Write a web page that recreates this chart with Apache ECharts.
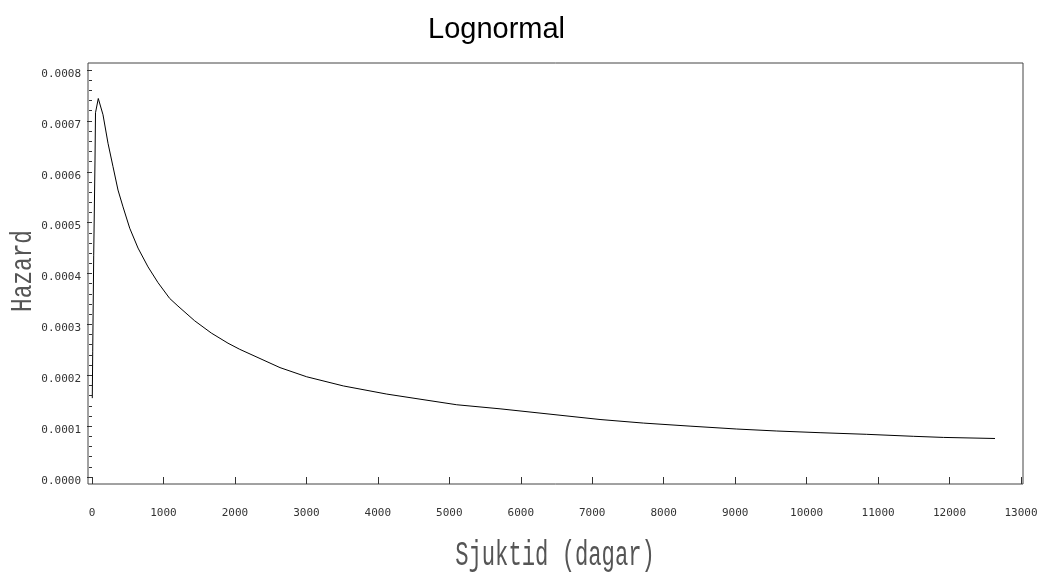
<!DOCTYPE html>
<html>
<head>
<meta charset="utf-8">
<script src="https://cdn.jsdelivr.net/npm/echarts@6/dist/echarts.min.js"></script>
<style>
html,body{margin:0;padding:0;background:#fff;}
#chart{width:1038px;height:574px;}
</style>
</head>
<body>
<div id="chart"></div>
<script>
const titleText = 'Lognormal';
const xAxisTitle = 'Sjuktid (dagar)';
const yAxisTitle = 'Hazard';

const days = [4, 10, 24, 42, 49, 88, 154, 224, 294, 364, 434, 528, 644, 784, 924, 1087, 1203, 1437, 1669, 1903, 2067, 2631, 3004, 3517, 4124, 4590, 5104, 5710, 7109, 7715, 8369, 9022, 9582, 10188, 10841, 11493, 11913, 12636];
const hazard = [0.000155, 0.000246, 0.000436, 0.000623, 0.000716, 0.000744, 0.000712, 0.000656, 0.000610, 0.000564, 0.000531, 0.000489, 0.000450, 0.000413, 0.000382, 0.000351, 0.000336, 0.000307, 0.000283, 0.000263, 0.000251, 0.000215, 0.000197, 0.000179, 0.000163, 0.000153, 0.000142, 0.000134, 0.000113, 0.000106, 0.000100, 0.0000943, 0.0000904, 0.0000871, 0.0000839, 0.0000800, 0.0000778, 0.0000757];

const xMin = 0, xMax = 13000, xStep = 1000;
const yMin = 0, yMax = 0.0008, yStep = 0.0001;

const points = days.map((d, i) => [d, hazard[i]]);

const chart = echarts.init(document.getElementById('chart'), null, {renderer: 'canvas'});
const tickFont = 'DejaVu Sans Mono';
chart.setOption({
  animation: false,
  backgroundColor: '#ffffff',
  title: {
    text: titleText,
    left: 423,
    top: 10,
    textStyle: {fontFamily: 'Liberation Sans', fontSize: 29, fontWeight: 'normal', color: '#000'}
  },
  grid: [
    {left: 88, top: 63, right: 15, bottom: 90, show: true, borderColor: '#444', borderWidth: 1, backgroundColor: 'transparent', containLabel: false, outerBoundsMode: 'none'},
    {left: 92, top: 70, right: 17, bottom: 97, containLabel: false, outerBoundsMode: 'none'}
  ],
  xAxis: [
    {gridIndex: 0, type: 'value', show: false, min: 0, max: 1},
    {
      gridIndex: 1, type: 'value', min: xMin, max: xMax, interval: xStep, offset: 10,
      axisLine: {show: false},
      axisTick: {show: true, length: 7, lineStyle: {color: '#333', width: 1}},
      axisLabel: {margin: 21, fontFamily: tickFont, fontSize: 11, color: '#333', formatter: v => String(v)},
      splitLine: {show: false}
    }
  ],
  yAxis: [
    {gridIndex: 0, type: 'value', show: false, min: 0, max: 1},
    {
      gridIndex: 1, type: 'value', min: yMin, max: yMax, interval: yStep, offset: 4,
      axisLine: {show: false},
      axisTick: {show: true, length: 5, lineStyle: {color: '#333', width: 1}},
      minorTick: {show: true, splitNumber: 5, length: 3, lineStyle: {color: '#333', width: 1}},
      axisLabel: {margin: 7, fontFamily: tickFont, fontSize: 11, color: '#333', verticalAlign: 'top', lineHeight: 8, formatter: v => v.toFixed(4)},
      splitLine: {show: false},
      minorSplitLine: {show: false}
    }
  ],
  series: [{
    type: 'line',
    xAxisIndex: 1,
    yAxisIndex: 1,
    data: points,
    showSymbol: false,
    symbol: 'none',
    smooth: false,
    lineStyle: {color: '#000', width: 1}
  }],
  graphic: [
    {
      type: 'text', x: 555, y: 556, scaleY: 1.6, silent: true,
      style: {text: xAxisTitle, fontFamily: 'Liberation Mono', fontSize: 22.2, fill: '#555', align: 'center', verticalAlign: 'middle', textAlign: 'center', textVerticalAlign: 'middle'}
    },
    {
      type: 'text', x: 23, y: 271, rotation: Math.PI / 2, scaleY: 1.26, silent: true,
      style: {text: yAxisTitle, fontFamily: 'Liberation Mono', fontSize: 22.8, fill: '#555', align: 'center', verticalAlign: 'middle', textAlign: 'center', textVerticalAlign: 'middle'}
    }
  ]
});
</script>
</body>
</html>
